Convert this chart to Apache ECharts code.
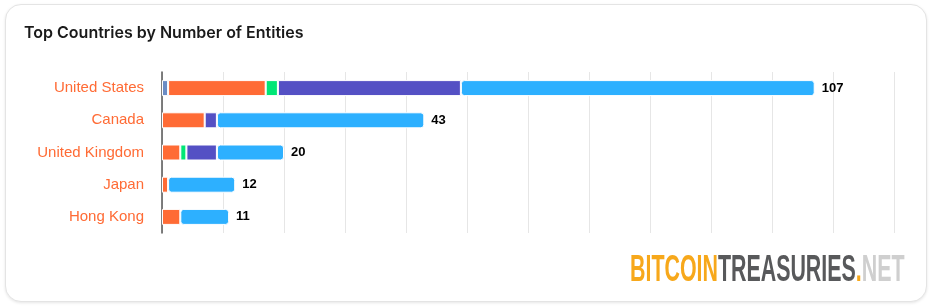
<!DOCTYPE html>
<html><head><meta charset="utf-8">
<script src="https://cdn.jsdelivr.net/npm/echarts@6/dist/echarts.min.js"></script>
<style>
html,body{margin:0;padding:0;background:#fff;}
#card{position:absolute;left:5px;top:4px;width:920px;height:296px;border:1px solid #e4e4e4;border-radius:16px;box-shadow:0 1px 3px rgba(0,0,0,0.10);background:#fff;}
#c{position:absolute;left:0;top:0;width:932px;height:307px;}
</style></head>
<body><div id="card"></div><div id="c"></div>
<script>
var categories = ['United States','Canada','United Kingdom','Japan','Hong Kong'];
var seriesNames = ['Government','Private Companies','DeFi','ETFs','Public Companies'];
var seriesGov = [1, 0, 0, 0, 0];
var seriesPrivate = [16, 7, 3, 1, 3];
var seriesDefi = [2, 0, 1, 0, 0];
var seriesEtf = [30, 2, 5, 0, 0];
var seriesPublic = [58, 34, 11, 11, 8];
var totals = [107, 43, 20, 12, 11];
var xTicks = {min: 0, max: 120, interval: 10};

var colors = ['#6b8cc4','#ff6b35','#00e676','#5450c4','#2db0ff'];
var dataSets = [seriesGov, seriesPrivate, seriesDefi, seriesEtf, seriesPublic];
var chart = echarts.init(document.getElementById('c'));
var series = dataSets.map(function(d, i){
  var last = i === dataSets.length - 1;
  return {
    name: seriesNames[i], type: 'bar', stack: 'total', barWidth: 16,
    data: d.map(function(v){ return v === 0 ? null : v; }),
    itemStyle: {color: colors[i], borderColor: '#fff', borderWidth: 1, borderRadius: last ? [3,3,3,3] : 0},
    label: last ? {show: true, position: 'right', distance: 7, color: '#000', fontWeight: 'bold', fontSize: 13,
      fontFamily: 'Liberation Sans, Arial, sans-serif',
      formatter: function(p){ return totals[p.dataIndex]; }} : {show: false},
    emphasis: {disabled: true}
  };
});
chart.setOption({
  animation: false,
  title: {text: 'Top Countries by Number of Entities', left: 19, top: 20,
    textStyle: {fontSize: 16, fontWeight: 600, color: '#1a1a1a', fontFamily: 'Inter, Roboto, sans-serif'}},
  grid: {left: 162, right: 38, top: 72, bottom: 74, containLabel: false},
  xAxis: {type: 'value', min: xTicks.min, max: xTicks.max, interval: xTicks.interval,
    axisLabel: {show: false}, axisLine: {show: false}, axisTick: {show: false},
    splitLine: {show: true, lineStyle: {color: '#e6e6e6', width: 1}}},
  yAxis: {type: 'category', data: categories, inverse: true,
    axisLine: {show: true, lineStyle: {color: '#555', width: 1.5}}, axisTick: {show: false},
    axisLabel: {color: '#ff6b35', fontSize: 15, margin: 18, fontFamily: 'Liberation Sans, Arial, sans-serif'}},
  series: series,
  graphic: [{
    type: 'text', left: 630, top: 252, scaleX: 0.578,
    style: {
      text: '{a|BITCOIN}{b|TREASURIES}{a|.}{c|NET}',
      rich: {
        a: {fill: '#f7a81b', fontSize: 37, fontWeight: 'bold', fontFamily: 'Liberation Sans Narrow, Liberation Sans, sans-serif'},
        b: {fill: '#58595b', fontSize: 37, fontWeight: 'bold', fontFamily: 'Liberation Sans Narrow, Liberation Sans, sans-serif'},
        c: {fill: '#cfcfcf', fontSize: 37, fontWeight: 'bold', fontFamily: 'Liberation Sans Narrow, Liberation Sans, sans-serif'}
      }
    }
  }]
});
</script></body></html>
